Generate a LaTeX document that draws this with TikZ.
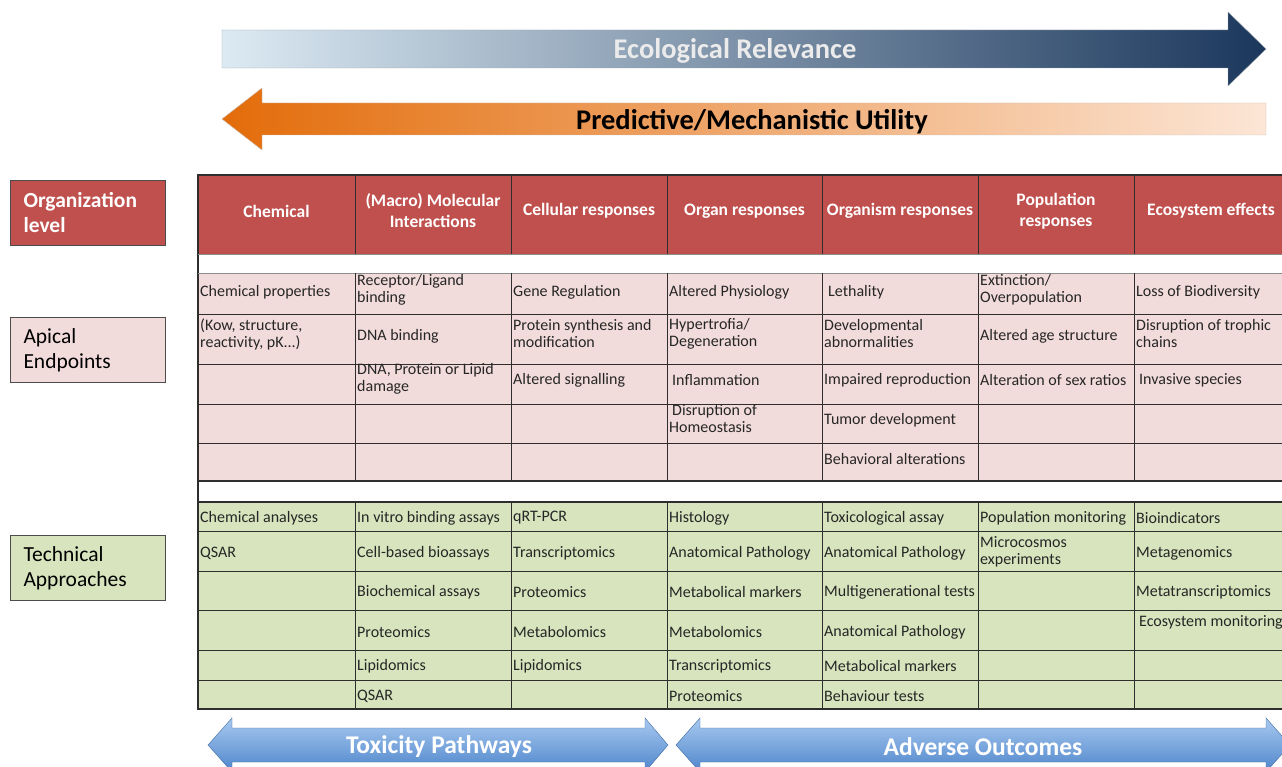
\documentclass[tikz,border=0pt]{standalone}
\usepackage{fontspec}
\setmainfont{Carlito}
\usepackage{tikz}

\definecolor{hdred}{HTML}{C0504D}
\definecolor{apink}{HTML}{F2DCDB}
\definecolor{tgreen}{HTML}{D7E4BD}
\definecolor{ecolight}{HTML}{DCEAF3}
\definecolor{econavy}{HTML}{1B375C}
\definecolor{predorange}{HTML}{E36C0A}
\definecolor{predpeach}{HTML}{FCE6D6}
\definecolor{pathblue}{HTML}{4F86CC}
\definecolor{pathlight}{HTML}{A8C9EF}
\definecolor{gridline}{HTML}{2E2E2E}

\tikzset{
  cell/.style={anchor=west, align=left, inner sep=0pt, text=black!85,
    font=\fontsize{16}{17}\selectfont},
  head/.style={align=center, inner sep=0pt, text=white,
    font=\fontsize{17.5}{21}\selectfont\bfseries},
  levelbox/.style={draw=black!70, line width=1pt, align=left, anchor=north west,
    minimum width=155pt, minimum height=65pt, inner xsep=13pt, text width=129pt,
    font=\fontsize{21.5}{25}\selectfont},
  bigarrow/.style={font=\fontsize{28.5}{30}\selectfont\bfseries, inner sep=0pt},
  patharrow/.style={font=\fontsize{25.5}{28}\selectfont\bfseries, inner sep=0pt, text=white}
}

\begin{document}
\begin{tikzpicture}[x=1pt,y=-1pt]
\useasboundingbox (0,0) rectangle (1282,767);

% arrows on top
\path[draw=ecolight!70!black, left color=ecolight, right color=econavy]
  (222,30) -- (1228,30) -- (1228,12) -- (1266,49) -- (1228,86) -- (1228,68) -- (222,68) -- cycle;
\node[bigarrow, text=white!92!black] (ecorel) at (735,51) {Ecological Relevance};
\path[draw=predpeach!60!gray, left color=predorange, right color=predpeach]
  (222,119) -- (262,88) -- (262,103) -- (1266,103) -- (1266,135) -- (262,135) -- (262,150) -- cycle;
\node[bigarrow, text=black] (predutil) at (752,122) {Predictive/Mechanistic Utility};

% labels on the left
\node[levelbox, fill=hdred, text=white, font=\fontsize{21.5}{25}\selectfont\bfseries] (orglevel) at (10,180) {Organization\\level};
\node[levelbox, fill=apink] (apical) at (10,317) {Apical\\Endpoints};
\node[levelbox, fill=tgreen] (technical) at (10,535) {Technical\\Approaches};

% fills of the table
\fill[hdred] (198,175) rectangle (1290,254);
\fill[apink] (198,273) rectangle (1290,481);
\fill[tgreen] (198,502) rectangle (1290,709);

% grid
\draw[gridline, line width=1.2pt] (1290,175) -- (198,175) -- (198,709) -- (1290,709);
\draw[gridline, line width=1.2pt] (198,481) -- (1290,481) (198,502) -- (1290,502);
\draw[black!45, line width=0.8pt] (198,254) -- (1290,254) (198,273) -- (1290,273);
\draw[gridline, line width=0.8pt] (198,314) -- (1290,314) (198,364) -- (1290,364)
  (198,404) -- (1290,404) (198,443) -- (1290,443);
\draw[gridline, line width=0.8pt] (198,531) -- (1290,531) (198,571) -- (1290,571)
  (198,610) -- (1290,610) (198,650) -- (1290,650) (198,680) -- (1290,680);
\draw[gridline, line width=0.8pt] (355,175) -- (355,254) (355,273) -- (355,481) (355,502) -- (355,709);
\draw[gridline, line width=0.8pt] (511,175) -- (511,254) (511,273) -- (511,481) (511,502) -- (511,709);
\draw[gridline, line width=0.8pt] (667,175) -- (667,254) (667,273) -- (667,481) (667,502) -- (667,709);
\draw[gridline, line width=0.8pt] (822,175) -- (822,254) (822,273) -- (822,481) (822,502) -- (822,709);
\draw[gridline, line width=0.8pt] (978,175) -- (978,254) (978,273) -- (978,481) (978,502) -- (978,709);
\draw[gridline, line width=0.8pt] (1134,175) -- (1134,254) (1134,273) -- (1134,481) (1134,502) -- (1134,709);

% header row
\node[head] (hchem) at (276.5,211) {Chemical};
\node[head] (hmol) at (433,211) {(Macro) Molecular\\Interactions};
\node[head] (hcell) at (589,211) {Cellular responses};
\node[head] (horgan) at (744.5,211) {Organ responses};
\node[head] (horganism) at (900,211) {Organism responses};
\node[head] (hpop) at (1056,211) {Population\\responses};
\node[head] (heco) at (1211,211) {Ecosystem effects};

% apical endpoints
\node[cell] (a11) at (200,292) {Chemical properties};
\node[cell] (a12) at (357,290) {Receptor/Ligand\\binding};
\node[cell] (a13) at (513,292) {Gene Regulation};
\node[cell] (a14) at (669,292) {Altered Physiology};
\node[cell] (a15) at (828,292) {Lethality};
\node[cell] (a16) at (980,290) {Extinction/\\Overpopulation};
\node[cell] (a17) at (1136,292) {Loss of Biodiversity};
\node[cell] (a21) at (200,334) {(Kow, structure,\\reactivity, pK...)};
\node[cell] (a22) at (357,336) {DNA binding};
\node[cell] (a23) at (513,334) {Protein synthesis and\\modification};
\node[cell] (a24) at (669,334) {Hypertrofia/\\Degeneration};
\node[cell] (a25) at (824,334) {Developmental\\abnormalities};
\node[cell] (a26) at (980,336) {Altered age structure};
\node[cell] (a27) at (1136,334) {Disruption of trophic\\chains};
\node[cell] (a32) at (357,379) {DNA, Protein or Lipid\\damage};
\node[cell] (a33) at (513,380) {Altered signalling};
\node[cell] (a34) at (672,380) {Inflammation};
\node[cell] (a35) at (824,380) {Impaired reproduction};
\node[cell] (a36) at (980,380) {Alteration of sex ratios};
\node[cell] (a37) at (1139,380) {Invasive species};
\node[cell] (a44) at (669,419) {\hspace{3pt}Disruption of\\Homeostasis};
\node[cell] (a45) at (824,420) {Tumor development};
\node[cell] (a55) at (824,459) {Behavioral alterations};

% technical approaches
\node[cell] (t11) at (200,518) {Chemical analyses};
\node[cell] (t12) at (357,518) {In vitro binding assays};
\node[cell] (t13) at (513,518) {qRT-PCR};
\node[cell] (t14) at (669,518) {Histology};
\node[cell] (t15) at (824,518) {Toxicological assay};
\node[cell] (t16) at (980,518) {Population monitoring};
\node[cell] (t17) at (1136,518) {Bioindicators};
\node[cell] (t21) at (200,553) {QSAR};
\node[cell] (t22) at (357,553) {Cell-based bioassays};
\node[cell] (t23) at (513,553) {Transcriptomics};
\node[cell] (t24) at (669,553) {Anatomical Pathology};
\node[cell] (t25) at (824,553) {Anatomical Pathology};
\node[cell] (t26) at (980,552) {Microcosmos\\experiments};
\node[cell] (t27) at (1136,553) {Metagenomics};
\node[cell] (t32) at (357,592) {Biochemical assays};
\node[cell] (t33) at (513,592) {Proteomics};
\node[cell] (t34) at (669,592) {Metabolical markers};
\node[cell] (t35) at (824,592) {Multigenerational tests};
\node[cell] (t37) at (1136,592) {Metatranscriptomics};
\node[cell] (t42) at (357,632) {Proteomics};
\node[cell] (t43) at (513,632) {Metabolomics};
\node[cell] (t44) at (669,632) {Metabolomics};
\node[cell] (t45) at (824,632) {Anatomical Pathology};
\node[cell] (t47) at (1139,622) {Ecosystem monitoring};
\node[cell] (t52) at (357,666) {Lipidomics};
\node[cell] (t53) at (513,666) {Lipidomics};
\node[cell] (t54) at (669,666) {Transcriptomics};
\node[cell] (t55) at (824,666) {Metabolical markers};
\node[cell] (t62) at (357,696) {QSAR};
\node[cell] (t64) at (669,696) {Proteomics};
\node[cell] (t65) at (824,696) {Behaviour tests};

% arrows at the bottom
\path[draw=pathblue!80!black, top color=pathlight, bottom color=pathblue]
  (208,745) -- (232,718) -- (232,728) -- (645,728) -- (645,718) -- (668,745)
  -- (645,772) -- (645,762) -- (232,762) -- (232,772) -- cycle;
\node[patharrow] (toxpath) at (439,747) {Toxicity Pathways};
\path[draw=pathblue!80!black, top color=pathlight, bottom color=pathblue]
  (676,745) -- (700,718) -- (700,728) -- (1266,728) -- (1266,718) -- (1290,745)
  -- (1266,772) -- (1266,762) -- (700,762) -- (700,772) -- cycle;
\node[patharrow] (adverse) at (983,747) {Adverse Outcomes};
\end{tikzpicture}
\end{document}
